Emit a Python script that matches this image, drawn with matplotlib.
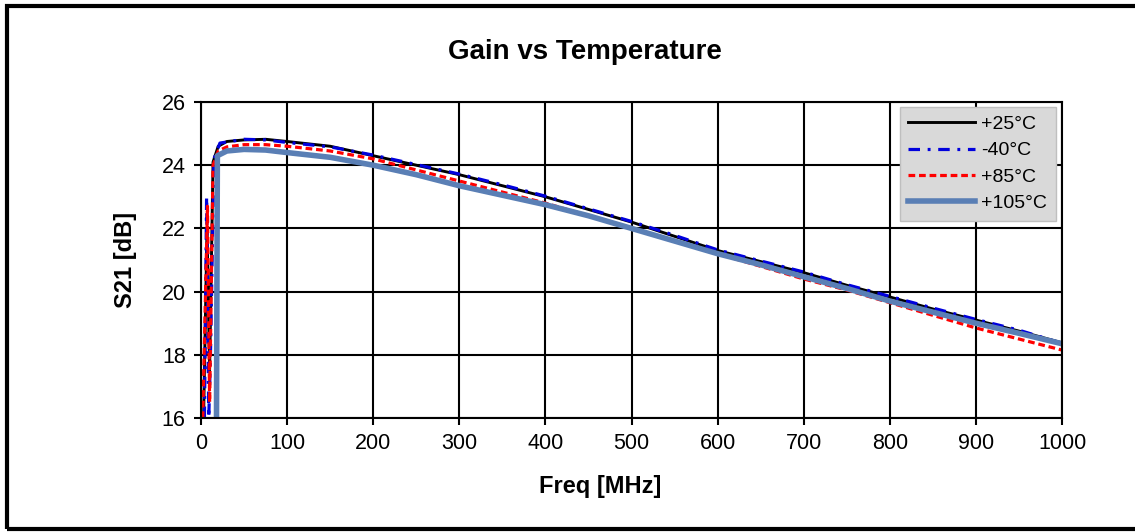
import numpy as np
import matplotlib.pyplot as plt
from matplotlib.patches import Rectangle

plt.rcParams['font.family'] = ['Liberation Sans', 'DejaVu Sans']

# measured S21 vs frequency at four temperatures
freq_25 = [3, 7, 10, 14, 20, 30, 50, 75, 100, 150, 200, 250, 300, 350, 400, 450, 500,
           550, 600, 650, 700, 750, 800, 850, 900, 950, 1000]
s21_25 = [16.0, 22.0, 17.5, 24.1, 24.6, 24.75, 24.8, 24.82, 24.75, 24.6, 24.3, 24.0, 23.7,
          23.35, 23.0, 22.6, 22.2, 21.75, 21.3, 20.95, 20.6, 20.2, 19.83, 19.45, 19.1,
          18.75, 18.38]

freq_m40 = [4, 6.5, 9, 11, 15, 22, 50, 75, 100, 150, 200, 250, 300, 350, 400, 450, 500,
            550, 600, 650, 700, 750, 800, 850, 900, 950, 1000]
s21_m40 = [16.0, 23.0, 16.0, 18.0, 24.2, 24.7, 24.82, 24.8, 24.72, 24.58, 24.32, 24.02,
           23.72, 23.38, 23.02, 22.62, 22.22, 21.78, 21.32, 20.97, 20.62, 20.22, 19.85,
           19.48, 19.12, 18.78, 18.36]

freq_85 = [2, 7.5, 10, 14, 20, 30, 50, 75, 100, 150, 200, 250, 300, 350, 400, 450, 500,
           550, 600, 650, 700, 750, 800, 850, 900, 950, 1000]
s21_85 = [16.0, 22.7, 16.5, 24.0, 24.45, 24.58, 24.65, 24.65, 24.6, 24.45, 24.2, 23.85,
          23.5, 23.15, 22.8, 22.4, 22.0, 21.6, 21.2, 20.8, 20.4, 20.05, 19.65, 19.25,
          18.85, 18.5, 18.15]

freq_105 = [18, 19, 30, 50, 75, 100, 150, 200, 250, 300, 350, 400, 450, 500, 550, 600,
            650, 700, 750, 800, 850, 900, 950, 1000]
s21_105 = [16.0, 24.3, 24.45, 24.5, 24.48, 24.4, 24.25, 24.0, 23.7, 23.35, 23.05, 22.75,
           22.4, 22.0, 21.6, 21.2, 20.85, 20.47, 20.1, 19.7, 19.35, 19.0, 18.68, 18.35]

labels = ["+25°C", "-40°C", "+85°C", "+105°C"]

fig = plt.figure(figsize=(11.35, 5.32), dpi=100)
ax = fig.add_axes([201 / 1135, 114 / 532, 861 / 1135, 316 / 532])

ax.plot(freq_25, s21_25, color="black", lw=2.1, label=labels[0])
ax.plot(freq_m40, s21_m40, color="#0000dd", lw=2.3, dashes=(3.6, 2.4, 0.9, 2.4), label=labels[1])
ax.plot(freq_85, s21_85, color="#ff0000", lw=2.3, dashes=(2.1, 1.2), label=labels[2])
ax.plot(freq_105, s21_105, color="#5a7fb5", lw=4.0, label=labels[3])

ax.set_xlim(0, 1000)
ax.set_ylim(16, 26)
ax.set_xticks(np.arange(0, 1001, 100))
ax.set_yticks(np.arange(16, 27, 2))
ax.grid(True, color="black", lw=1.5)
ax.set_axisbelow(True)
for sp in ax.spines.values():
    sp.set_linewidth(1.5)
ax.tick_params(direction="out", length=5, width=1.5, labelsize=15.5, pad=6)

fig.text(585 / 1135, 1 - 52 / 532, "Gain vs Temperature", fontsize=20, fontweight="bold",
         ha="center", va="center")
ax.set_xlabel("Freq [MHz]", fontsize=17, fontweight="bold", labelpad=8)
ax.xaxis.set_label_coords((600 - 201) / 861, -0.18)
ax.set_ylabel("S21 [dB]", fontsize=17, fontweight="bold", labelpad=18)

leg = ax.legend(loc="upper right", bbox_to_anchor=(0.993, 0.985), fontsize=14,
                frameon=True, fancybox=False, facecolor="#d9d9d9", edgecolor="#bfbfbf",
                framealpha=1, handlelength=3.4, handletextpad=0.35, labelspacing=0.45,
                borderpad=0.45, borderaxespad=0)
leg.get_frame().set_linewidth(1.0)

# outer chart border, open on the right side
fig.patches.append(Rectangle((7 / 1135, 3 / 532), 1.2, 523 / 532, transform=fig.transFigure,
                             fill=False, edgecolor="black", lw=3.0))

fig.savefig("out.png", dpi=100)
